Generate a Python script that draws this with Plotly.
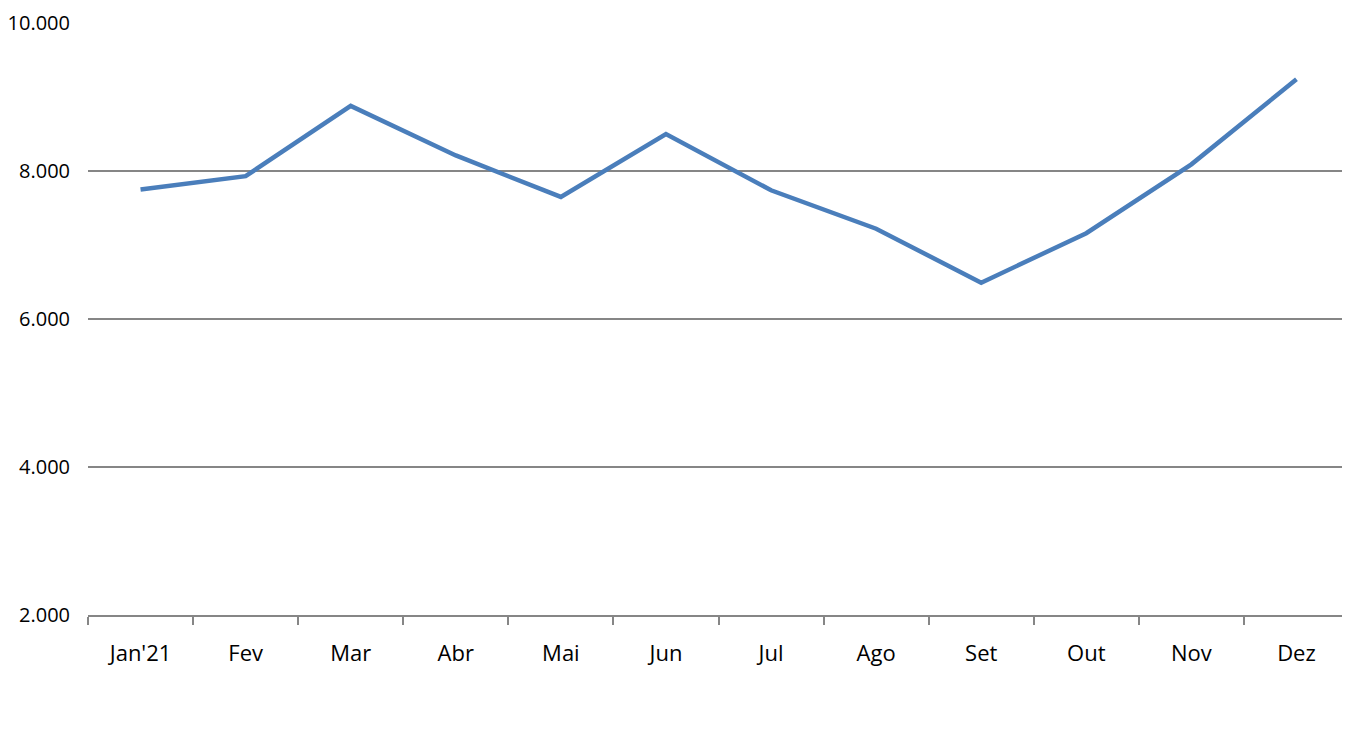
import plotly.graph_objs as go

months = ["Jan'21", 'Fev', 'Mar', 'Abr', 'Mai', 'Jun',
          'Jul', 'Ago', 'Set', 'Out', 'Nov', 'Dez']
values = [7750, 7930, 8880, 8210, 7650, 8500,
          7740, 7220, 6490, 7160, 8090, 9240]
y_ticks = [2000, 4000, 6000, 8000, 10000]

fig = go.Figure(go.Scatter(
    x=months,
    y=values,
    mode='lines',
    line=dict(color='#4a7ebb', width=4.5),
    showlegend=False
))

# page body has an 8px margin, so the figure is shifted by that much
fig.update_layout(
    width=1342,
    height=734,
    margin=dict(l=80, r=1, t=15, b=127),
    plot_bgcolor='white',
    paper_bgcolor='white',
    separators=',.',
    font=dict(family='Open Sans', size=22, color='black'),
    xaxis=dict(
        type='category',
        range=[-0.5, len(months) - 0.5],
        automargin=False,
        showgrid=False,
        showline=True,
        linecolor='#868686',
        linewidth=2,
        ticks='outside',
        tickson='boundaries',
        ticklen=8,
        tickwidth=2,
        tickcolor='#868686',
        ticklabelstandoff=18,
        tickfont=dict(size=22),
    ),
    yaxis=dict(
        range=[2000, 10000],
        automargin=False,
        tickvals=y_ticks,
        tickformat=',d',
        showgrid=True,
        gridcolor='#868686',
        gridwidth=1.5,
        zeroline=False,
        ticks='',
        ticklabelstandoff=17,
        tickfont=dict(size=20),
    ),
)

fig.write_html('out.html')
